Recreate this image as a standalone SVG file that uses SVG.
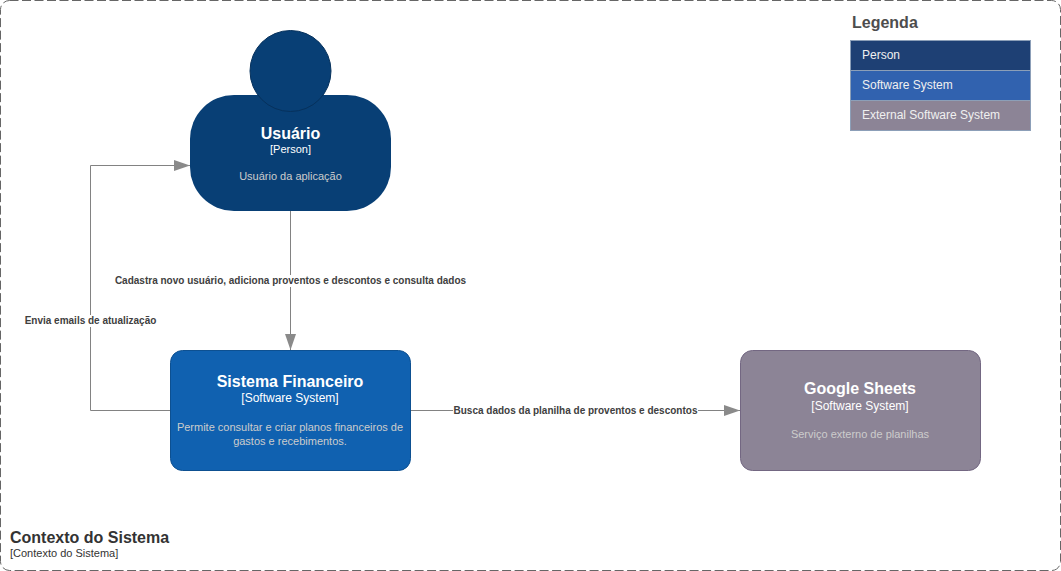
<svg xmlns="http://www.w3.org/2000/svg" width="1061" height="571" viewBox="0 0 1061 571">
<style>
text{font-family:"Liberation Sans",Arial,sans-serif;text-anchor:middle}
.t{font-size:16px;font-weight:bold;fill:#fff}
.k{font-size:12px;fill:#fff}
.d{font-size:11px;fill:#ccc}
.c{fill:none;stroke:#828282;stroke-width:1;marker-end:url(#a)}
.l{font-size:10px;font-weight:bold;fill:#404040}
.bg{fill:#fff}
.lg{font-size:12px;fill:#f0f0f0;text-anchor:start}
.lr{stroke:#8c9fb8;stroke-width:1}
</style>
<defs><marker id="a" markerUnits="userSpaceOnUse" markerWidth="18" markerHeight="14" refX="16.500" refY="7" orient="auto"><path d="M0.500 1.500L16.500 7L0.500 12.500Z" fill="#8a8a8a"/></marker></defs>
<rect width="1061" height="571" fill="#fff"/>
<g id="boundary">
<rect x="0.500" y="0.500" width="1060" height="570" rx="9" fill="none" stroke="#666" stroke-dasharray="9 3.500"/>
<text x="10" y="543" style="text-anchor:start;font-size:16px;font-weight:bold;fill:#333">Contexto do Sistema</text>
<text x="10" y="557" style="text-anchor:start;font-size:11px;fill:#333">[Contexto do Sistema]</text>
</g>
<g id="connectors">
<path class="c" d="M290.500 210.500V350"/>
<path class="c" d="M170 410.500H90.500V165.500H190"/>
<path class="c" d="M410.500 410.500H740"/>
<rect class="bg" x="114" y="275" width="353" height="12"/>
<text class="l" x="290.500" y="284">Cadastra novo usuário, adiciona proventos e descontos e consulta dados</text>
<rect class="bg" x="24" y="315" width="133" height="12"/>
<text class="l" x="90.500" y="324">Envia emails de atualização</text>
<rect class="bg" x="453" y="405" width="245" height="11"/>
<text class="l" x="575.500" y="414">Busca dados da planilha de proventos e descontos</text>
</g>
<g id="usuario">
<rect x="190" y="95" width="201" height="116" rx="44" fill="#083f75"/>
<circle cx="290.500" cy="71" r="40.500" fill="#083f75" stroke="#06315c"/>
<text class="t" x="290.500" y="139">Usuário</text>
<text class="k" x="290.500" y="153" style="font-size:11px">[Person]</text>
<text class="d" x="290.500" y="180">Usuário da aplicação</text>
</g>
<g id="sistema">
<rect x="170.500" y="350.500" width="240" height="120" rx="12" fill="#1061b0" stroke="#0d5091"/>
<text class="t" x="290" y="387">Sistema Financeiro</text>
<text class="k" x="290" y="402">[Software System]</text>
<text class="d" x="290" y="431">Permite consultar e criar planos financeiros de</text>
<text class="d" x="290" y="445">gastos e recebimentos.</text>
</g>
<g id="sheets">
<rect x="740.500" y="350.500" width="240" height="120" rx="12" fill="#8c8496" stroke="#736782"/>
<text class="t" x="860" y="394">Google Sheets</text>
<text class="k" x="860" y="410">[Software System]</text>
<text class="d" x="860" y="438">Serviço externo de planilhas</text>
</g>
<g id="legenda">
<text x="852" y="28" style="text-anchor:start;font-size:16px;font-weight:bold;fill:#4d4d4d">Legenda</text>
<rect class="lr" x="850.500" y="40.500" width="180" height="30" fill="#1e4074"/>
<rect class="lr" x="850.500" y="70.500" width="180" height="30" fill="#3162af"/>
<rect class="lr" x="850.500" y="100.500" width="180" height="30" fill="#8c8496"/>
<text class="lg" x="862" y="59">Person</text>
<text class="lg" x="862" y="89">Software System</text>
<text class="lg" x="862" y="119">External Software System</text>
</g>
</svg>
